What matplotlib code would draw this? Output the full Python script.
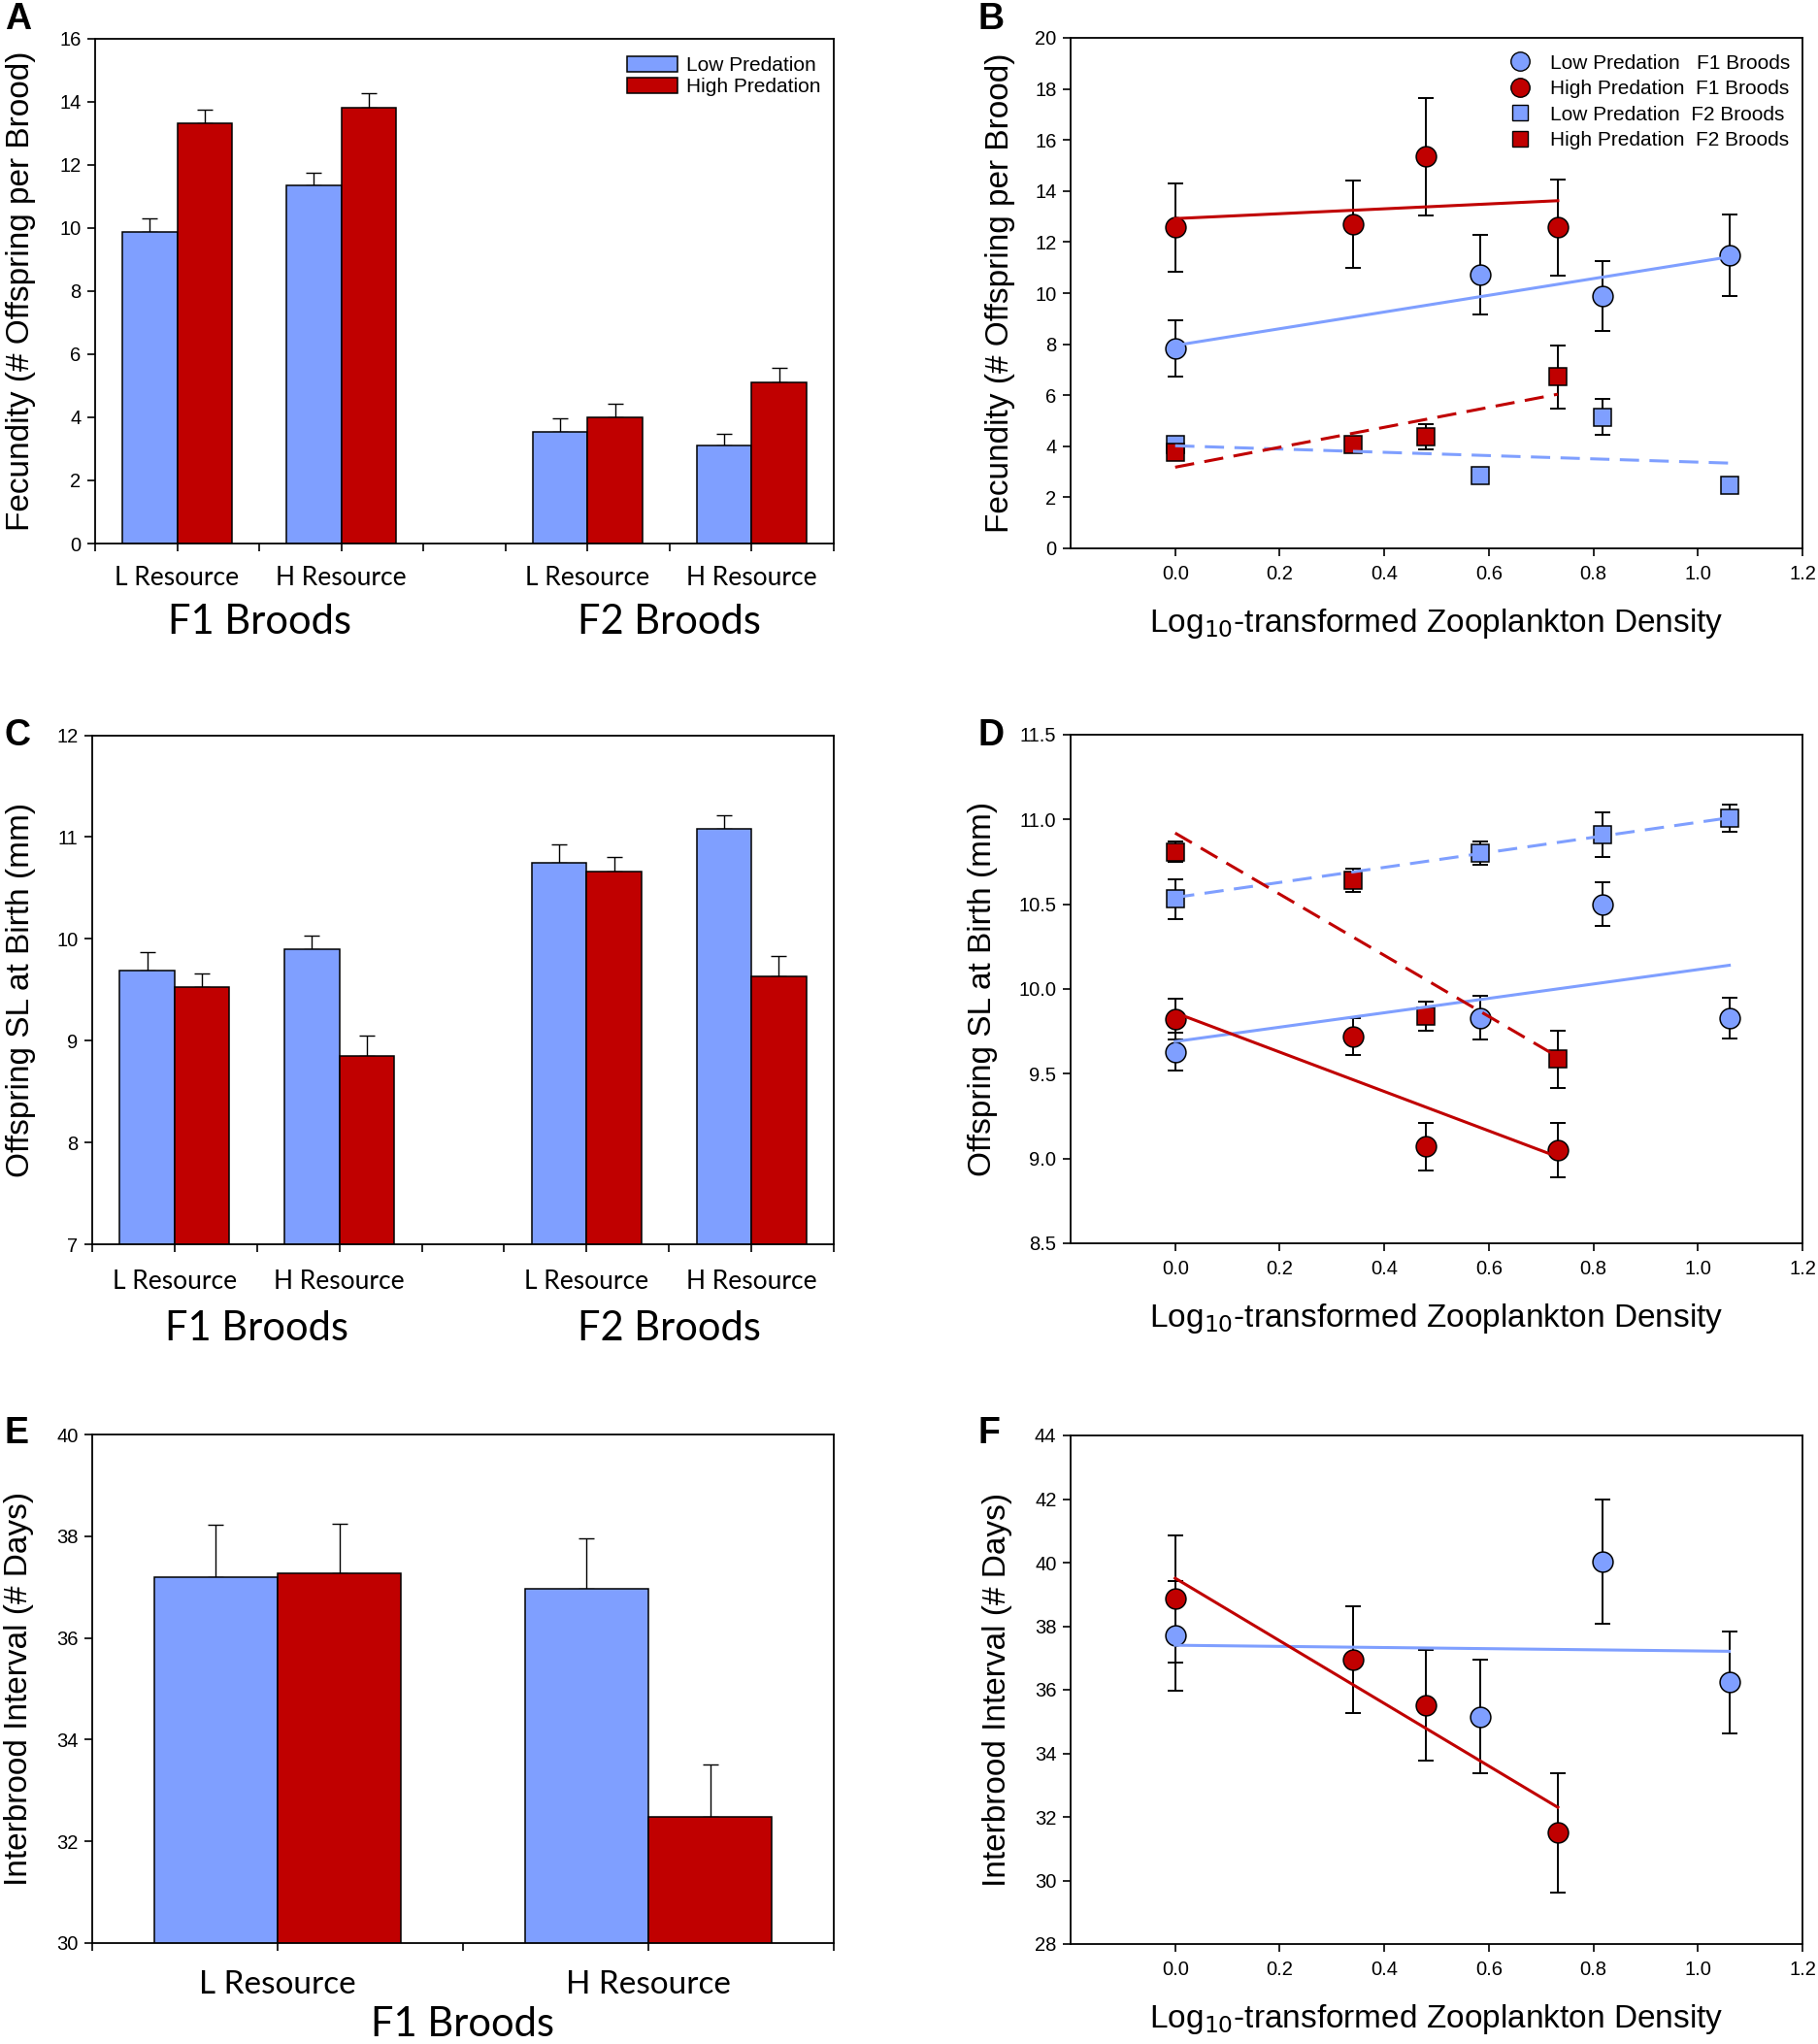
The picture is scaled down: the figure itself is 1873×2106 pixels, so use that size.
import matplotlib
matplotlib.use('Agg')
import matplotlib.pyplot as plt
from matplotlib.lines import Line2D
from matplotlib.patches import Patch
import matplotlib.transforms as mtransforms
import numpy as np

# ---- data ----
blue = '#7f9fff'
red = '#c00000'

# A: fecundity bars (F1 L, F1 H, F2 L, F2 H)
a_low = [9.86, 11.35, 3.52, 3.09]
a_low_se = [0.44, 0.40, 0.44, 0.37]
a_high = [13.32, 13.81, 4.01, 5.09]
a_high_se = [0.42, 0.45, 0.42, 0.47]

# C: offspring SL bars
c_low = [9.69, 9.90, 10.75, 11.08]
c_low_se = [0.18, 0.13, 0.18, 0.13]
c_high = [9.53, 8.85, 10.66, 9.63]
c_high_se = [0.13, 0.20, 0.14, 0.20]

# E: interbrood interval bars (F1 only)
e_low = [37.19, 36.96]
e_low_se = [1.04, 0.99]
e_high = [37.27, 32.48]
e_high_se = [0.98, 1.04]

bar_labels = ['L Resource', 'H Resource', 'L Resource', 'H Resource']
bar_pos = [1, 3, 6, 8]
e_labels = ['L Resource', 'H Resource']
e_pos = [1, 3]

# zooplankton density (log10) of the sites
low_x = [0.0, 0.583, 0.818, 1.06]
high_x = [0.0, 0.34, 0.48, 0.732]

# B: fecundity vs density
b_low_f1 = [7.83, 10.72, 9.90, 11.49]
b_low_f1_se = [1.10, 1.56, 1.37, 1.60]
b_high_f1 = [12.57, 12.69, 15.35, 12.57]
b_high_f1_se = [1.74, 1.72, 2.29, 1.87]
b_low_f2 = [4.05, 2.84, 5.15, 2.49]
b_low_f2_se = [0.30, 0.12, 0.70, 0.12]
b_high_f2 = [3.75, 4.06, 4.36, 6.72]
b_high_f2_se = [0.30, 0.30, 0.50, 1.23]
# regression lines: value at first and last site
b_fit_low_f1 = [7.95, 11.42]
b_fit_high_f1 = [12.92, 13.62]
b_fit_low_f2 = [4.02, 3.34]
b_fit_high_f2 = [3.18, 6.04]

# D: offspring SL vs density
d_low_f1 = [9.63, 9.83, 10.50, 9.83]
d_low_f1_se = [0.11, 0.13, 0.13, 0.12]
d_high_f1 = [9.825, 9.72, 9.07, 9.05]
d_high_f1_se = [0.12, 0.11, 0.14, 0.16]
d_low_f2 = [10.53, 10.80, 10.91, 11.01]
d_low_f2_se = [0.115, 0.07, 0.13, 0.08]
d_high_f2 = [10.81, 10.64, 9.84, 9.585]
d_high_f2_se = [0.06, 0.07, 0.085, 0.17]
d_fit_low_f1 = [9.69, 10.14]
d_fit_high_f1 = [9.86, 9.01]
d_fit_low_f2 = [10.54, 11.01]
d_fit_high_f2 = [10.92, 9.60]

# F: interbrood interval vs density
f_low_f1 = [37.70, 35.16, 40.03, 36.23]
f_low_f1_se = [1.72, 1.80, 1.96, 1.60]
f_high_f1 = [38.86, 36.95, 35.51, 31.50]
f_high_f1_se = [2.00, 1.68, 1.73, 1.87]
f_fit_low_f1 = [37.40, 37.21]
f_fit_high_f1 = [39.51, 32.30]

# ---- fonts ----
NARROW = ['Liberation Sans Narrow', 'Liberation Sans']
ARIAL = ['Liberation Sans', 'DejaVu Sans']
CAL = ['Lato', 'DejaVu Sans']
plt.rcParams['font.family'] = ARIAL
plt.rcParams['axes.linewidth'] = 1.3

W, H = 1874, 2106
fig = plt.figure(figsize=(W / 100, H / 100), dpi=100)


def add_axes(l, t, r, b):
    return fig.add_axes([l / W, 1 - b / H, (r - l) / W, (b - t) / H])


def style_ticks(ax):
    ax.tick_params(direction='out', length=5.5, width=1.2, top=False, right=False)
    for lab in ax.get_xticklabels() + ax.get_yticklabels():
        lab.set_fontfamily(NARROW)


def bar_panel(ax, pos, low, low_se, high, high_se, labels, xmax, ylim, yticks,
              ylabel, ylab_x, lab_size, brood_names, brood_x, brood_y, brood_size, pad):
    w = 2 / 3.
    pos = np.array(pos, dtype=float)
    ax.bar(pos - w / 2, low, w, color=blue, edgecolor='black', linewidth=1.1, zorder=2)
    ax.bar(pos + w / 2, high, w, color=red, edgecolor='black', linewidth=1.1, zorder=2)
    ax.errorbar(pos - w / 2, low, yerr=[np.zeros(len(low)), low_se], fmt='none',
                ecolor='black', elinewidth=1.0, capsize=6, capthick=1.0, zorder=1)
    ax.errorbar(pos + w / 2, high, yerr=[np.zeros(len(high)), high_se], fmt='none',
                ecolor='black', elinewidth=1.0, capsize=6, capthick=1.0, zorder=1)
    ax.set_xlim(0, xmax)
    ax.set_ylim(*ylim)
    ax.set_yticks(yticks)
    ticks = list(range(xmax + 1))
    ax.set_xticks(ticks)
    tl = ['' for t in ticks]
    for p, l in zip(pos, labels):
        tl[int(p)] = l
    ax.set_xticklabels(tl)
    style_ticks(ax)
    ax.tick_params(axis='y', labelsize=14.5, pad=5)
    ax.tick_params(axis='x', labelsize=lab_size, pad=pad)
    for lab in ax.get_xticklabels():
        lab.set_fontfamily(CAL)
    ax.text(ylab_x, 0.5, ylabel, rotation=90, ha='center', va='center',
            fontsize=24, transform=ax.transAxes)
    trans = mtransforms.blended_transform_factory(ax.transData, ax.transAxes)
    for name, bx in zip(brood_names, brood_x):
        ax.text(bx, brood_y, name, ha='center', va='center', fontsize=brood_size,
                fontfamily=CAL, transform=trans)


def scatter_panel(ax, series, fits, ylim, yticks, yfmt, ylabel, ylab_x):
    for xs, ys, se, col, mk, ms in series:
        ax.errorbar(xs, ys, yerr=se, fmt='none', ecolor='black', elinewidth=1.4,
                    capsize=6, capthick=1.4, zorder=2)
        ax.plot(xs, ys, linestyle='none', marker=mk, markersize=ms, markerfacecolor=col,
                markeredgecolor='black', markeredgewidth=1.1, zorder=3)
    for xs, ys, col, ls in fits:
        line, = ax.plot([xs[0], xs[-1]], ys, color=col, linewidth=2.2, zorder=4)
        if ls == 'dash':
            line.set_dashes((6.5, 3.5))
    ax.set_xlim(-0.2, 1.2)
    ax.set_xticks([0.0, 0.2, 0.4, 0.6, 0.8, 1.0, 1.2])
    ax.set_xticklabels(['0.0', '0.2', '0.4', '0.6', '0.8', '1.0', '1.2'])
    ax.set_ylim(*ylim)
    ax.set_yticks(yticks)
    ax.set_yticklabels([yfmt % v for v in yticks])
    style_ticks(ax)
    ax.tick_params(axis='both', labelsize=14.5)
    ax.tick_params(axis='x', pad=7)
    ax.tick_params(axis='y', pad=5)
    ax.text(ylab_x, 0.5, ylabel, rotation=90, ha='center', va='center',
            fontsize=24, transform=ax.transAxes)
    ax.text(0.5, -0.147, r'Log$_{10}$-transformed Zooplankton Density', ha='center',
            va='center', fontsize=24, fontfamily=NARROW, transform=ax.transAxes)


# ---- A ----
axA = add_axes(98, 39.5, 859, 560)
bar_panel(axA, bar_pos, a_low, a_low_se, a_high, a_high_se, bar_labels, 9, (0, 16),
          range(0, 17, 2), 'Fecundity (# Offspring per Brood)', -0.101, 19,
          ['F1 Broods', 'F2 Broods'], [2, 7], -0.156, 30, 11)
axA.legend(handles=[Patch(facecolor=blue, edgecolor='black', linewidth=1.1, label='Low Predation'),
                    Patch(facecolor=red, edgecolor='black', linewidth=1.1, label='High Predation')],
           loc='upper right', bbox_to_anchor=(1.007, 1.0), frameon=False, fontsize=15,
           handlelength=2.5, handleheight=0.75, handletextpad=0.45, labelspacing=0.15)

# ---- C ----
axC = add_axes(95, 757.5, 859, 1282)
bar_panel(axC, bar_pos, c_low, c_low_se, c_high, c_high_se, bar_labels, 9, (7, 12),
          range(7, 13), 'Offspring SL at Birth (mm)', -0.096, 19,
          ['F1 Broods', 'F2 Broods'], [2, 7], -0.165, 30, 13)

# ---- E ----
axE = add_axes(95, 1478, 859, 2002)
bar_panel(axE, e_pos, e_low, e_low_se, e_high, e_high_se, e_labels, 4, (30, 40),
          range(30, 41, 2), 'Interbrood Interval (# Days)', -0.099, 24,
          ['F1 Broods'], [2], -0.16, 30, 15)

# ---- B ----
axB = add_axes(1103, 39, 1857, 565)
scatter_panel(axB,
              [(low_x, b_low_f1, b_low_f1_se, blue, 'o', 15),
               (high_x, b_high_f1, b_high_f1_se, red, 'o', 15),
               (low_x, b_low_f2, b_low_f2_se, blue, 's', 13),
               (high_x, b_high_f2, b_high_f2_se, red, 's', 13)],
              [(low_x, b_fit_low_f1, blue, 'solid'),
               (high_x, b_fit_high_f1, red, 'solid'),
               (low_x, b_fit_low_f2, blue, 'dash'),
               (high_x, b_fit_high_f2, red, 'dash')],
              (0, 20), list(range(0, 21, 2)), '%d',
              'Fecundity (# Offspring per Brood)', -0.096)
handles = [Line2D([], [], linestyle='none', marker='o', markersize=14, markerfacecolor=blue,
                  markeredgecolor='black', label='Low Predation   F1 Broods'),
           Line2D([], [], linestyle='none', marker='o', markersize=14, markerfacecolor=red,
                  markeredgecolor='black', label='High Predation  F1 Broods'),
           Line2D([], [], linestyle='none', marker='s', markersize=12, markerfacecolor=blue,
                  markeredgecolor='black', label='Low Predation  F2 Broods'),
           Line2D([], [], linestyle='none', marker='s', markersize=12, markerfacecolor=red,
                  markeredgecolor='black', label='High Predation  F2 Broods')]
leg = axB.legend(handles=handles, loc='upper right', bbox_to_anchor=(1.008, 1.004), frameon=False,
                 prop={'family': NARROW, 'size': 15}, handletextpad=0.9, labelspacing=0.36,
                 handlelength=1.2)

# ---- D ----
axD = add_axes(1103, 757, 1857, 1281)
scatter_panel(axD,
              [(low_x, d_low_f1, d_low_f1_se, blue, 'o', 15),
               (high_x, d_high_f1, d_high_f1_se, red, 'o', 15),
               (low_x, d_low_f2, d_low_f2_se, blue, 's', 13),
               (high_x, d_high_f2, d_high_f2_se, red, 's', 13)],
              [(low_x, d_fit_low_f1, blue, 'solid'),
               (high_x, d_fit_high_f1, red, 'solid'),
               (low_x, d_fit_low_f2, blue, 'dash'),
               (high_x, d_fit_high_f2, red, 'dash')],
              (8.5, 11.5), [8.5, 9.0, 9.5, 10.0, 10.5, 11.0, 11.5], '%.1f',
              'Offspring SL at Birth (mm)', -0.12)

# ---- F ----
axF = add_axes(1103, 1479, 1857, 2003)
scatter_panel(axF,
              [(low_x, f_low_f1, f_low_f1_se, blue, 'o', 15),
               (high_x, f_high_f1, f_high_f1_se, red, 'o', 15)],
              [(low_x, f_fit_low_f1, blue, 'solid'),
               (high_x, f_fit_high_f1, red, 'solid')],
              (28, 44), list(range(28, 45, 2)), '%d',
              'Interbrood Interval (# Days)', -0.1)

# panel letters
for letter, x, y in [('A', 5, 2), ('B', 1007, 2), ('C', 5, 740), ('D', 1007, 740),
                     ('E', 5, 1459), ('F', 1007, 1459)]:
    fig.text(x / W, 1 - y / H, letter, fontsize=27, fontweight='bold', ha='left', va='top')

fig.savefig('out.png', dpi=100, facecolor='white')
